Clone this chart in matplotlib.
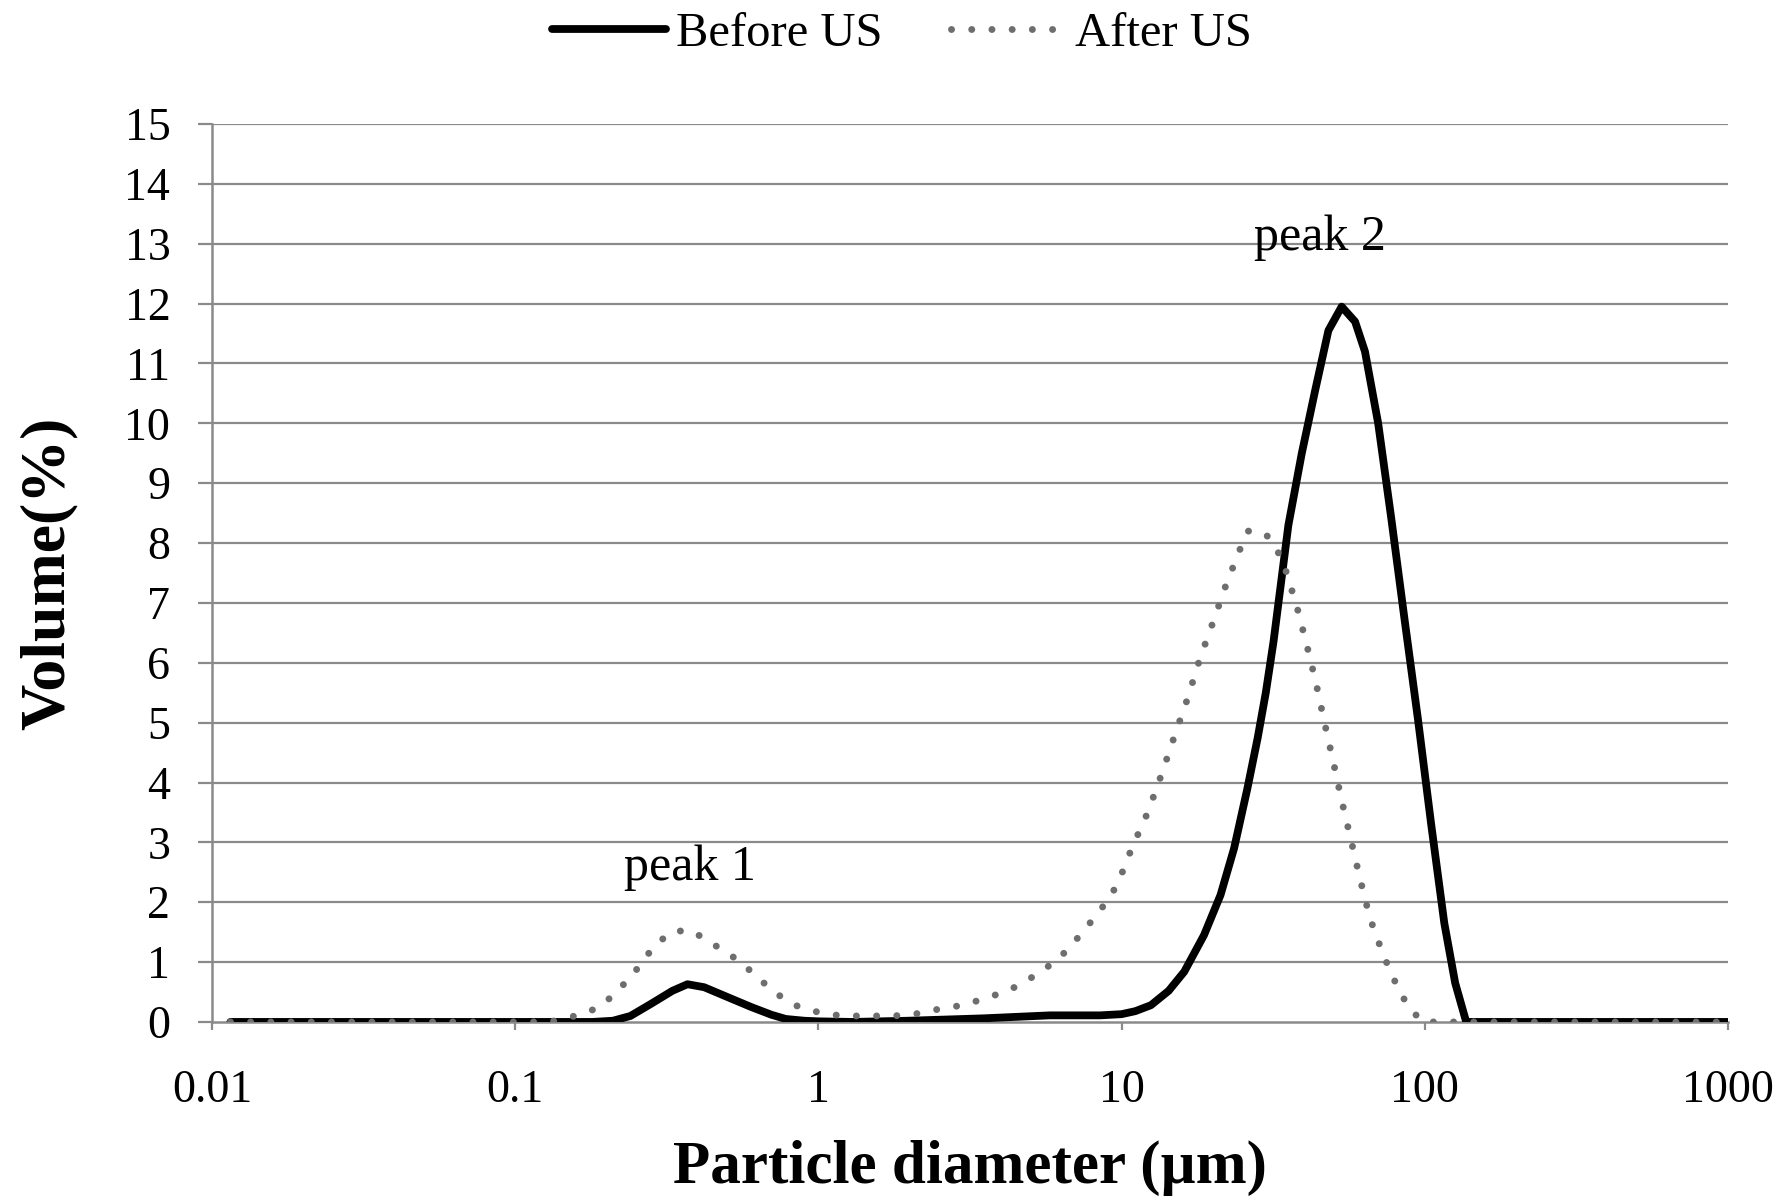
import numpy as np
import matplotlib
matplotlib.use("Agg")
import matplotlib.pyplot as plt

plt.rcParams["font.family"] = ["Liberation Serif", "DejaVu Serif"]

# particle diameter (um) and volume (%)
before_d = [0.0115, 0.05, 0.1, 0.18, 0.21, 0.24, 0.28, 0.33, 0.37, 0.42, 0.51,
            0.6, 0.7, 0.78, 0.9, 1.0, 1.3, 1.97, 3.5, 5.8, 8.5, 10, 11.1,
            12.5, 14.3, 16.1, 18.7, 21.2, 23.5, 26.0, 28.1, 29.9, 31.7, 35.5,
            39.3, 43.5, 48.1, 53.2, 58.9, 63.5, 70.2, 77.6, 85.9, 95.0, 105,
            116, 126, 137, 200, 500, 1000]
before_v = [0, 0, 0, 0, 0.02, 0.1, 0.3, 0.52, 0.63, 0.58, 0.4,
            0.25, 0.12, 0.05, 0.02, 0.01, 0.0, 0.02, 0.06, 0.11, 0.11, 0.13, 0.18,
            0.28, 0.52, 0.84, 1.45, 2.12, 2.9, 3.9, 4.74, 5.5, 6.35, 8.3,
            9.5, 10.55, 11.55, 11.95, 11.7, 11.2, 10.0, 8.4, 6.7, 5.05, 3.3,
            1.65, 0.65, 0, 0, 0, 0]

after_d = [0.0115, 0.05, 0.1, 0.13, 0.149, 0.172, 0.196, 0.22, 0.243, 0.265,
           0.292, 0.329, 0.38, 0.436, 0.495, 0.561, 0.63, 0.71, 0.80, 0.91,
           1.07, 1.22, 1.43, 1.67, 1.95, 2.24, 2.62, 3.04, 3.5, 4.07, 4.66,
           5.3, 5.96, 6.69, 7.4, 8.1, 8.9, 9.7, 10.8, 12.2, 13.6, 15.0, 16.5,
           18.1, 20.0, 22.1, 24.6, 26.2, 29.8, 32.5, 34.7, 37.8, 40.8, 43.8,
           46.7, 49.9, 53.2, 57.1, 61.1, 65.9, 69.3, 72.9, 77.7, 82.8, 89.3,
           98.6, 200, 500, 1000]
after_v = [0, 0, 0, 0, 0.07, 0.15, 0.30, 0.55, 0.77, 1.04,
           1.30, 1.51, 1.53, 1.34, 1.17, 0.98, 0.74, 0.52, 0.32, 0.21,
           0.13, 0.10, 0.10, 0.10, 0.11, 0.16, 0.24, 0.28, 0.39, 0.49, 0.63,
           0.81, 0.99, 1.22, 1.49, 1.73, 2.0, 2.3, 2.9, 3.5, 4.16, 4.8, 5.4,
           6.06, 6.67, 7.3, 7.9, 8.2, 8.16, 7.9, 7.56, 6.95, 6.3, 5.66,
           5.0, 4.35, 3.7, 3.04, 2.4, 1.74, 1.43, 1.13, 0.8, 0.5, 0.22,
           0, 0, 0, 0]

y_ticks = list(range(0, 16))
x_ticks = [0.01, 0.1, 1, 10, 100, 1000]
x_labels = ["0.01", "0.1", "1", "10", "100", "1000"]

grid_col = "#8a8a8a"

fig = plt.figure(figsize=(17.86, 12.02), dpi=100)
ax = fig.add_axes([0.1187, 0.1498, 0.9675 - 0.1187, 0.8968 - 0.1498])

ax.plot(before_d, before_v, color="black", lw=5.6, solid_capstyle="round",
        solid_joinstyle="round", label="Before US", zorder=3)
ax.plot(after_d, after_v, color="#6e6e6e", lw=5.0, linestyle=(0, (0.01, 2.9)),
        dash_capstyle="round", label="After US", zorder=4)

ax.set_xscale("log")
ax.set_xlim(0.01, 1000)
ax.set_ylim(0, 15)
ax.set_xticks(x_ticks)
ax.set_xticklabels(x_labels)
ax.xaxis.set_minor_locator(matplotlib.ticker.NullLocator())
ax.set_yticks(y_ticks)

for y in y_ticks[1:]:
    ax.axhline(y, color=grid_col, lw=1.6, zorder=1)

for s in ["top", "right"]:
    ax.spines[s].set_visible(False)
for s in ["left", "bottom"]:
    ax.spines[s].set_color(grid_col)
    ax.spines[s].set_linewidth(1.8)

ax.tick_params(axis="y", length=10, width=1.6, color=grid_col, pad=20, labelsize=33)
ax.tick_params(axis="x", length=6, width=1.6, color=grid_col, pad=28, labelsize=33)

ax.set_xlabel("Particle diameter (\u00b5m)", fontsize=44, fontweight="bold", labelpad=20)
ax.set_ylabel("Volume(%)", fontsize=46, fontweight="bold", labelpad=34)

ax.text(0.376, 2.57, "peak 1", fontsize=36, ha="center", va="center")
ax.text(45, 13.1, "peak 2", fontsize=36, ha="center", va="center")

fig.legend(loc="center", bbox_to_anchor=(0.505, 0.972), ncol=2, frameon=False,
           fontsize=35, handlelength=2.35, handletextpad=0.2, columnspacing=1.4)

fig.savefig("out.png", dpi=100, facecolor="white")
